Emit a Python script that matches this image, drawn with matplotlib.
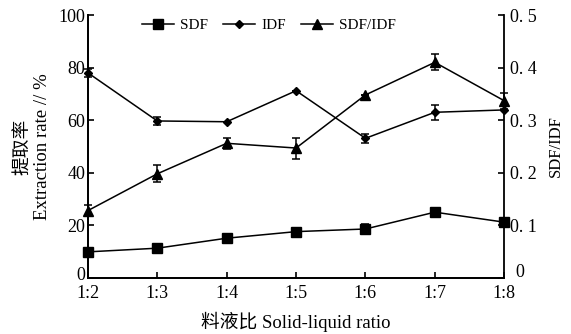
import matplotlib
matplotlib.use("Agg")
import matplotlib.pyplot as plt
from matplotlib.transforms import ScaledTranslation

plt.rcParams['font.family'] = ['Liberation Serif', 'Noto Sans CJK SC']
plt.rcParams['axes.unicode_minus'] = False

ratios = ["1:2", "1:3", "1:4", "1:5", "1:6", "1:7", "1:8"]
sdf = [9.9, 11.3, 15.1, 17.6, 18.6, 25.0, 21.2]
sdf_err = [0, 0, 0, 0, 2.0, 0, 1.5]
idf = [78.0, 59.7, 59.4, 71.2, 53.1, 63.0, 63.9]
idf_err = [1.5, 1.5, 0, 0, 1.8, 2.8, 0]
sdf_idf = [0.128, 0.198, 0.256, 0.247, 0.348, 0.410, 0.337]
sdf_idf_err = [0.011, 0.016, 0.010, 0.020, 0, 0.015, 0.015]

x = list(range(len(ratios)))

fig = plt.figure(figsize=(5.71, 3.34), dpi=100)
ax = fig.add_axes([0.154, 0.168, 0.729, 0.787])
ax2 = ax.twinx()

line_kw = dict(color="black", lw=1.1, ecolor="black", elinewidth=1.1,
               capsize=3, capthick=1.1)
e1 = ax.errorbar(x, sdf, yerr=sdf_err, marker="s", ms=7.5, **line_kw)
e2 = ax.errorbar(x, idf, yerr=idf_err, marker="D", ms=4.5, **line_kw)
e3 = ax2.errorbar(x, sdf_idf, yerr=sdf_idf_err, marker="^", ms=6.5, **line_kw)
for eb in (e1, e2, e3):
    for art in eb.get_children():
        art.set_clip_on(False)

ax.set_xlim(0, len(ratios) - 1)
ax.set_ylim(0, 100)
ax2.set_ylim(0, 0.5)
ax.set_xticks(x)
ax.set_xticklabels(ratios)
ax.set_yticks([0, 20, 40, 60, 80, 100])
ax2.set_yticks([0, 0.1, 0.2, 0.3, 0.4, 0.5])
ax2.set_yticklabels(["0", "0. 1", "0. 2", "0. 3", "0. 4", "0. 5"])

for a in (ax, ax2):
    a.spines["top"].set_visible(False)
    for s in a.spines.values():
        s.set_linewidth(1.3)
    a.tick_params(direction="in", length=4, width=1.2, labelsize=13, pad=2)
ax.spines["right"].set_visible(False)
ax.tick_params(axis="x", pad=5)
ax2.tick_params(axis="y", pad=4)

# nudge the zero labels so they clear the category labels below
def shift(label, dx, dy):
    label.set_transform(label.get_transform()
                        + ScaledTranslation(dx / 72, dy / 72, fig.dpi_scale_trans))

shift(ax.get_yticklabels()[0], 0, 3)
shift(ax2.get_yticklabels()[0], 4, 5)

ax.set_xlabel("料液比 Solid-liquid ratio", fontsize=13.5, labelpad=7)
ax.set_ylabel("提取率\nExtraction rate // %", fontsize=13.5, labelpad=5,
              linespacing=1.15)
ax2.set_ylabel("SDF/IDF", fontsize=12, labelpad=8)

ax.legend([e1[0], e2[0], e3[0]], ["SDF", "IDF", "SDF/IDF"], ncol=3,
          loc="center", bbox_to_anchor=(0.435, 0.962), frameon=False,
          fontsize=11, handlelength=2.1, columnspacing=1.0,
          handletextpad=0.4)

fig.savefig("out.png", dpi=100)
